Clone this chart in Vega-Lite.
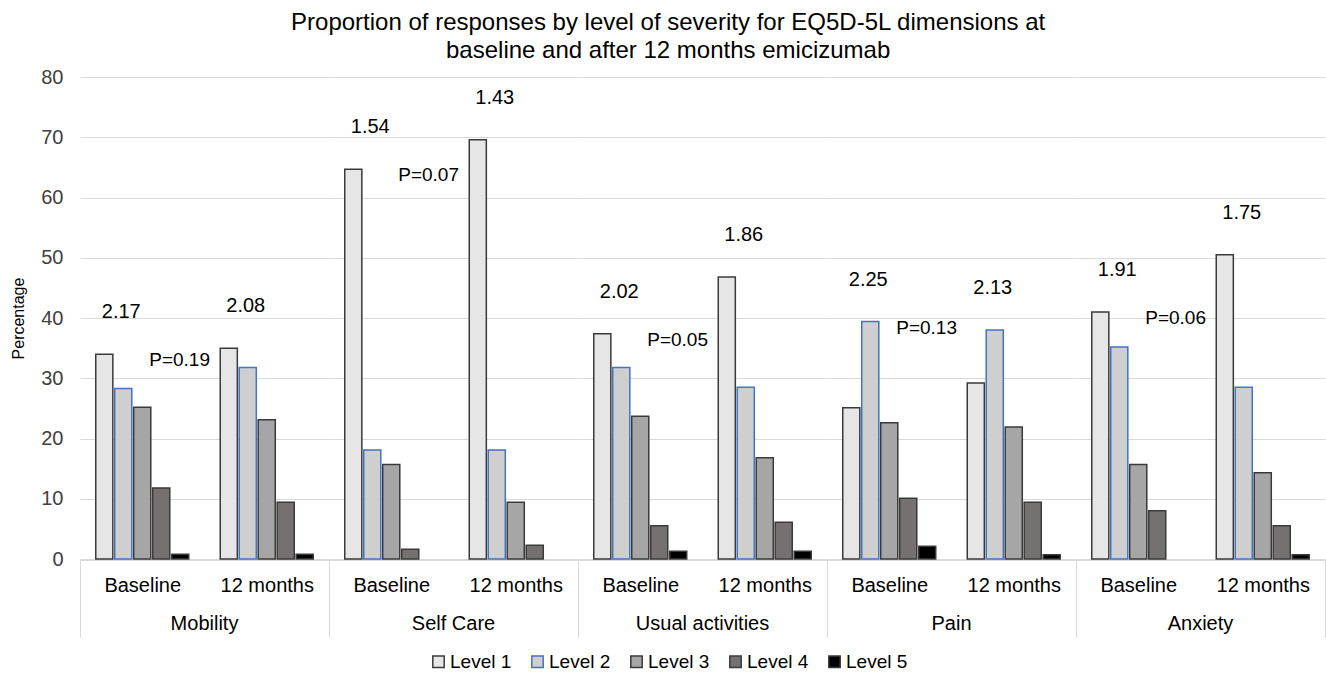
{
  "$schema": "https://vega.github.io/schema/vega-lite/v6.json",
  "padding": {"left": 10, "top": 11, "right": 0, "bottom": 0},
  "background": "white",
  "title": {
    "text": ["Proportion of responses by level of severity for EQ5D-5L dimensions at", "baseline and after 12 months emicizumab"],
    "font": "Liberation Sans",
    "fontSize": 24,
    "fontWeight": "normal",
    "lineHeight": 28,
    "color": "#000000",
    "anchor": "middle",
    "offset": 4
  },
  "config": {
    "font": "Liberation Sans",
    "view": {"stroke": null},
    "header": {"labelFont": "Liberation Sans"},
    "legend": {"layout": {"bottom": {"anchor": "middle"}}}
  },
  "data": {
    "values": [
      {"dimension": "Mobility", "time": "Baseline", "level": "Level 1", "pct": 34.0},
      {"dimension": "Mobility", "time": "Baseline", "level": "Level 2", "pct": 28.3},
      {"dimension": "Mobility", "time": "Baseline", "level": "Level 3", "pct": 25.2},
      {"dimension": "Mobility", "time": "Baseline", "level": "Level 4", "pct": 11.8},
      {"dimension": "Mobility", "time": "Baseline", "level": "Level 5", "pct": 0.8},
      {"dimension": "Mobility", "time": "12 months", "level": "Level 1", "pct": 35.0},
      {"dimension": "Mobility", "time": "12 months", "level": "Level 2", "pct": 31.8},
      {"dimension": "Mobility", "time": "12 months", "level": "Level 3", "pct": 23.1},
      {"dimension": "Mobility", "time": "12 months", "level": "Level 4", "pct": 9.4},
      {"dimension": "Mobility", "time": "12 months", "level": "Level 5", "pct": 0.8},
      {"dimension": "Self Care", "time": "Baseline", "level": "Level 1", "pct": 64.7},
      {"dimension": "Self Care", "time": "Baseline", "level": "Level 2", "pct": 18.1},
      {"dimension": "Self Care", "time": "Baseline", "level": "Level 3", "pct": 15.7},
      {"dimension": "Self Care", "time": "Baseline", "level": "Level 4", "pct": 1.6},
      {"dimension": "Self Care", "time": "Baseline", "level": "Level 5", "pct": 0},
      {"dimension": "Self Care", "time": "12 months", "level": "Level 1", "pct": 69.6},
      {"dimension": "Self Care", "time": "12 months", "level": "Level 2", "pct": 18.1},
      {"dimension": "Self Care", "time": "12 months", "level": "Level 3", "pct": 9.4},
      {"dimension": "Self Care", "time": "12 months", "level": "Level 4", "pct": 2.3},
      {"dimension": "Self Care", "time": "12 months", "level": "Level 5", "pct": 0},
      {"dimension": "Usual activities", "time": "Baseline", "level": "Level 1", "pct": 37.4},
      {"dimension": "Usual activities", "time": "Baseline", "level": "Level 2", "pct": 31.8},
      {"dimension": "Usual activities", "time": "Baseline", "level": "Level 3", "pct": 23.7},
      {"dimension": "Usual activities", "time": "Baseline", "level": "Level 4", "pct": 5.5},
      {"dimension": "Usual activities", "time": "Baseline", "level": "Level 5", "pct": 1.3},
      {"dimension": "Usual activities", "time": "12 months", "level": "Level 1", "pct": 46.8},
      {"dimension": "Usual activities", "time": "12 months", "level": "Level 2", "pct": 28.5},
      {"dimension": "Usual activities", "time": "12 months", "level": "Level 3", "pct": 16.8},
      {"dimension": "Usual activities", "time": "12 months", "level": "Level 4", "pct": 6.1},
      {"dimension": "Usual activities", "time": "12 months", "level": "Level 5", "pct": 1.3},
      {"dimension": "Pain", "time": "Baseline", "level": "Level 1", "pct": 25.1},
      {"dimension": "Pain", "time": "Baseline", "level": "Level 2", "pct": 39.4},
      {"dimension": "Pain", "time": "Baseline", "level": "Level 3", "pct": 22.6},
      {"dimension": "Pain", "time": "Baseline", "level": "Level 4", "pct": 10.1},
      {"dimension": "Pain", "time": "Baseline", "level": "Level 5", "pct": 2.1},
      {"dimension": "Pain", "time": "12 months", "level": "Level 1", "pct": 29.2},
      {"dimension": "Pain", "time": "12 months", "level": "Level 2", "pct": 38.0},
      {"dimension": "Pain", "time": "12 months", "level": "Level 3", "pct": 21.9},
      {"dimension": "Pain", "time": "12 months", "level": "Level 4", "pct": 9.4},
      {"dimension": "Pain", "time": "12 months", "level": "Level 5", "pct": 0.7},
      {"dimension": "Anxiety", "time": "Baseline", "level": "Level 1", "pct": 41.0},
      {"dimension": "Anxiety", "time": "Baseline", "level": "Level 2", "pct": 35.2},
      {"dimension": "Anxiety", "time": "Baseline", "level": "Level 3", "pct": 15.7},
      {"dimension": "Anxiety", "time": "Baseline", "level": "Level 4", "pct": 8.0},
      {"dimension": "Anxiety", "time": "Baseline", "level": "Level 5", "pct": 0},
      {"dimension": "Anxiety", "time": "12 months", "level": "Level 1", "pct": 50.5},
      {"dimension": "Anxiety", "time": "12 months", "level": "Level 2", "pct": 28.5},
      {"dimension": "Anxiety", "time": "12 months", "level": "Level 3", "pct": 14.3},
      {"dimension": "Anxiety", "time": "12 months", "level": "Level 4", "pct": 5.5},
      {"dimension": "Anxiety", "time": "12 months", "level": "Level 5", "pct": 0.7},
      {"dimension": "Mobility", "time": "Baseline", "mean": 2.17},
      {"dimension": "Mobility", "time": "12 months", "mean": 2.08},
      {"dimension": "Self Care", "time": "Baseline", "mean": 1.54},
      {"dimension": "Self Care", "time": "12 months", "mean": 1.43},
      {"dimension": "Usual activities", "time": "Baseline", "mean": 2.02},
      {"dimension": "Usual activities", "time": "12 months", "mean": 1.86},
      {"dimension": "Pain", "time": "Baseline", "mean": 2.25},
      {"dimension": "Pain", "time": "12 months", "mean": 2.13},
      {"dimension": "Anxiety", "time": "Baseline", "mean": 1.91},
      {"dimension": "Anxiety", "time": "12 months", "mean": 1.75},
      {"dimension": "Mobility", "p": 0.19},
      {"dimension": "Self Care", "p": 0.07},
      {"dimension": "Usual activities", "p": 0.05},
      {"dimension": "Pain", "p": 0.13},
      {"dimension": "Anxiety", "p": 0.06}
    ]
  },
  "facet": {
    "column": {
      "field": "dimension",
      "type": "nominal",
      "sort": ["Mobility", "Self Care", "Usual activities", "Pain", "Anxiety"],
      "header": {
        "title": null,
        "labelOrient": "bottom",
        "labelFontSize": 20,
        "labelColor": "#000000",
        "labelPadding": -24
      }
    }
  },
  "spacing": 0,
  "spec": {
    "width": 249,
    "height": 482,
    "layer": [
      {
        "transform": [{"filter": "datum.pct > 0"}],
        "mark": {"type": "bar", "strokeWidth": 1.5},
        "encoding": {
          "x": {
            "field": "time",
            "type": "nominal",
            "scale": {"domain": ["Baseline", "12 months"], "paddingInner": 0, "paddingOuter": 0},
            "axis": {
              "title": null,
              "labelFontSize": 20,
              "labelColor": "#000000",
              "labelAngle": 0,
              "domainColor": "#D9D9D9",
              "domainWidth": 1,
              "tickBand": "extent",
              "tickSize": 77,
              "tickWidth": 1,
              "tickColor": {"condition": {"test": "datum.value === 'Baseline'", "value": "transparent"}, "value": "#D9D9D9"},
              "labelPadding": -62
            }
          },
          "xOffset": {
            "field": "level",
            "type": "nominal",
            "scale": {"domain": ["Level 1", "Level 2", "Level 3", "Level 4", "Level 5"], "paddingInner": 0.1, "paddingOuter": 0.83}
          },
          "y": {
            "field": "pct",
            "type": "quantitative",
            "scale": {"domain": [0, 80], "nice": false},
            "axis": {
              "values": [0, 10, 20, 30, 40, 50, 60, 70, 80],
              "title": "Percentage",
              "titleFontSize": 16,
              "titleFontWeight": "normal",
              "titleColor": "#000000",
              "titlePadding": 14,
              "labelFontSize": 20,
              "labelColor": "#404040",
              "labelPadding": 17,
              "domain": false,
              "ticks": false,
              "gridColor": "#D9D9D9",
              "gridWidth": 1
            }
          },
          "fill": {
            "field": "level",
            "type": "nominal",
            "scale": {"domain": ["Level 1", "Level 2", "Level 3", "Level 4", "Level 5"], "range": ["#E6E6E6", "#CFCFCF", "#A6A6A6", "#767171", "#000000"]},
            "legend": {
              "title": null,
              "orient": "bottom",
              "direction": "horizontal",
              "symbolType": "square",
              "symbolSize": 130,
              "symbolStrokeWidth": 1.5,
              "labelFontSize": 19,
              "labelColor": "#000000",
              "labelOffset": 2,
              "columnPadding": 16,
              "offset": 14
            }
          },
          "stroke": {
            "field": "level",
            "type": "nominal",
            "scale": {"domain": ["Level 1", "Level 2", "Level 3", "Level 4", "Level 5"], "range": ["#3A3A3A", "#4472C4", "#3A3A3A", "#3A3A3A", "#3A3A3A"]},
            "legend": {
              "title": null,
              "orient": "bottom",
              "direction": "horizontal",
              "symbolType": "square",
              "symbolSize": 130,
              "symbolStrokeWidth": 1.5,
              "labelFontSize": 19,
              "labelColor": "#000000",
              "labelOffset": 2,
              "columnPadding": 16,
              "offset": 14
            }
          }
        }
      },
      {
        "transform": [
          {"joinaggregate": [{"op": "max", "field": "pct", "as": "top"}], "groupby": ["dimension", "time"]},
          {"filter": "isValid(datum.mean)"}
        ],
        "mark": {"type": "text", "fontSize": 20, "color": "#000000", "dx": -21, "dy": -42},
        "encoding": {
          "x": {"field": "time", "type": "nominal"},
          "y": {"field": "top", "type": "quantitative"},
          "text": {"field": "mean", "type": "quantitative", "format": ".2f"}
        }
      },
      {
        "transform": [
          {"calculate": "datum.time === 'Baseline' ? datum.pct : null", "as": "bpct"},
          {"joinaggregate": [{"op": "max", "field": "bpct", "as": "btop"}], "groupby": ["dimension"]},
          {"filter": "isValid(datum.p)"},
          {"calculate": "'P=' + format(datum.p, '.2f')", "as": "ptext"}
        ],
        "mark": {"type": "text", "fontSize": 19, "color": "#000000", "dy": 6},
        "encoding": {
          "x": {"datum": "Baseline", "bandPosition": 0.8},
          "y": {"field": "btop", "type": "quantitative"},
          "text": {"field": "ptext", "type": "nominal"}
        }
      }
    ]
  }
}
